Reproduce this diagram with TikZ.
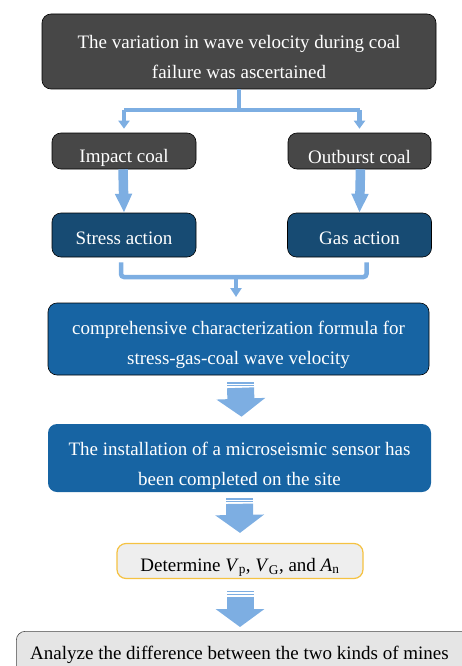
\documentclass[tikz,border=0pt]{standalone}
\usepackage{fontspec}
\setmainfont{Liberation Serif}
\usetikzlibrary{arrows.meta}
\definecolor{boxGray}{HTML}{474747}
\definecolor{boxNavy}{HTML}{174B73}
\definecolor{boxBlue}{HTML}{1764A3}
\definecolor{flowBlue}{HTML}{7DAEE2}
\definecolor{lightFill}{HTML}{EEEEEE}
\definecolor{goldLine}{HTML}{F5C242}
\newcommand{\boxText}[0]{\fontsize{19pt}{30pt}\selectfont}
\newcommand{\stripeArrow}[2]{%
  \fill[flowBlue] ([xshift=-13.5pt]#1) rectangle ([xshift=13.5pt,yshift=-1.3pt]#1);
  \fill[flowBlue] ([xshift=-13.5pt,yshift=-2.8pt]#1) rectangle ([xshift=13.5pt,yshift=-4.1pt]#1);
  \draw[bigarrow] ([yshift=-5.5pt]#1) -- (#2);}

\begin{document}
\begin{tikzpicture}[x=1pt, y=-1pt]
  \tikzset{
    flowbox/.style={draw=black, line width=0.6pt, rounded corners=9pt, inner sep=0pt},
    boxlabel/.style={align=center, font=\boxText, inner sep=0pt},
    whitelabel/.style={boxlabel, text=white},
    darkbox/.style={flowbox, fill=boxGray},
    navybox/.style={flowbox, fill=boxNavy, minimum width=144pt, minimum height=44pt},
    bluebox/.style={flowbox, fill=boxBlue, minimum width=381pt},
    link/.style={flowBlue, line width=4.5pt, rounded corners=6pt},
    thick link/.style={flowBlue, line width=9.5pt, -{Triangle[width=16pt,length=19pt]}},
    bigarrow/.style={flowBlue, line width=27pt, -{Triangle[width=48pt,length=18pt]}}
  }
  \useasboundingbox (0,0) rectangle (462,666);
  % boxes
  \node[darkbox, minimum width=394pt, minimum height=75pt] (top) at (239,51.5) {};
  \node[darkbox, minimum width=144pt, minimum height=36pt] (impact) at (124,151) {};
  \node[darkbox, minimum width=143pt, minimum height=36pt] (outburst) at (359.5,151) {};
  \node[navybox] (stress) at (124,235) {};
  \node[navybox] (gas) at (359.5,235) {};
  \node[bluebox, minimum height=72pt] (formula) at (238.5,339) {};
  \node[bluebox, draw=none, minimum width=383pt, minimum height=68pt] (sensor) at (239.5,458) {};
  \node[flowbox, draw=goldLine, line width=1.2pt, fill=lightFill, minimum width=246pt, minimum height=35pt] (determine) at (240,561) {};
  \node[flowbox, draw=boxGray, fill=lightFill!92!gray, anchor=north west, minimum width=470pt, minimum height=60pt] (analyze) at (16,631) {};
  % texts
  \node[whitelabel] (top-txt) at (239,57.5) {The variation in wave velocity during coal\\failure was ascertained};
  \node[whitelabel] (impact-txt) at (124,157.5) {Impact coal};
  \node[whitelabel] (outburst-txt) at (359.5,157.5) {Outburst coal};
  \node[whitelabel] (stress-txt) at (124,238.5) {Stress action};
  \node[whitelabel] (gas-txt) at (359.5,238.5) {Gas action};
  \node[whitelabel] (formula-txt) at (238.5,344.5) {comprehensive characterization formula for\\stress-gas-coal wave velocity};
  \node[whitelabel] (sensor-txt) at (239.5,465.5) {The installation of a microseismic sensor has\\been completed on the site};
  \node[boxlabel] (determine-txt) at (240,567.5)
    {Determine \textit{V}\textsubscript{p}, \textit{V}\textsubscript{G}, and \textit{A}\textsubscript{n}};
  \node[boxlabel, anchor=west] (analyze-txt) at (30,654.5) {Analyze the difference between the two kinds of mines};
  % split and merge connectors
  \coordinate (splitL) at (impact.north |- 0,110);
  \coordinate (splitR) at (outburst.north |- 0,110);
  \draw[link] (top.south) -- (top.south |- splitL);
  \draw[link, -{Triangle[width=11pt,length=8pt]}] (splitL) -- ([yshift=4pt]impact.north);
  \draw[link, -{Triangle[width=11pt,length=8pt]}] (splitR) -- ([yshift=4pt]outburst.north);
  \draw[link] (splitL) -- (splitR);
  \draw[thick link] ([xshift=-1pt]impact.south) -- (stress.north);
  \draw[thick link] ([xshift=1pt]outburst.south) -- (gas.north);
  \coordinate (merge) at (236,277);
  \draw[link, rounded corners=3pt] ([xshift=-3pt,yshift=-5pt]stress.south) |- (merge)
    -| ([xshift=7pt,yshift=-5pt]gas.south);
  \draw[link, -{Triangle[width=11pt,length=9pt]}] (merge) -- (236,297);
  % striped block arrows
  \coordinate (arrA) at ([xshift=2pt,yshift=-7pt]formula.south);
  \coordinate (arrA end) at ([xshift=2pt,yshift=7pt]sensor.north);
  \coordinate (arrB) at ([yshift=-6pt]sensor.south);
  \coordinate (arrB end) at ([yshift=10pt]determine.north);
  \coordinate (arrC) at ([yshift=-12pt]determine.south);
  \coordinate (arrC end) at ([yshift=4pt]analyze.north -| determine.south);
  \stripeArrow{arrA}{arrA end}
  \stripeArrow{arrB}{arrB end}
  \stripeArrow{arrC}{arrC end}
\end{tikzpicture}
\end{document}
